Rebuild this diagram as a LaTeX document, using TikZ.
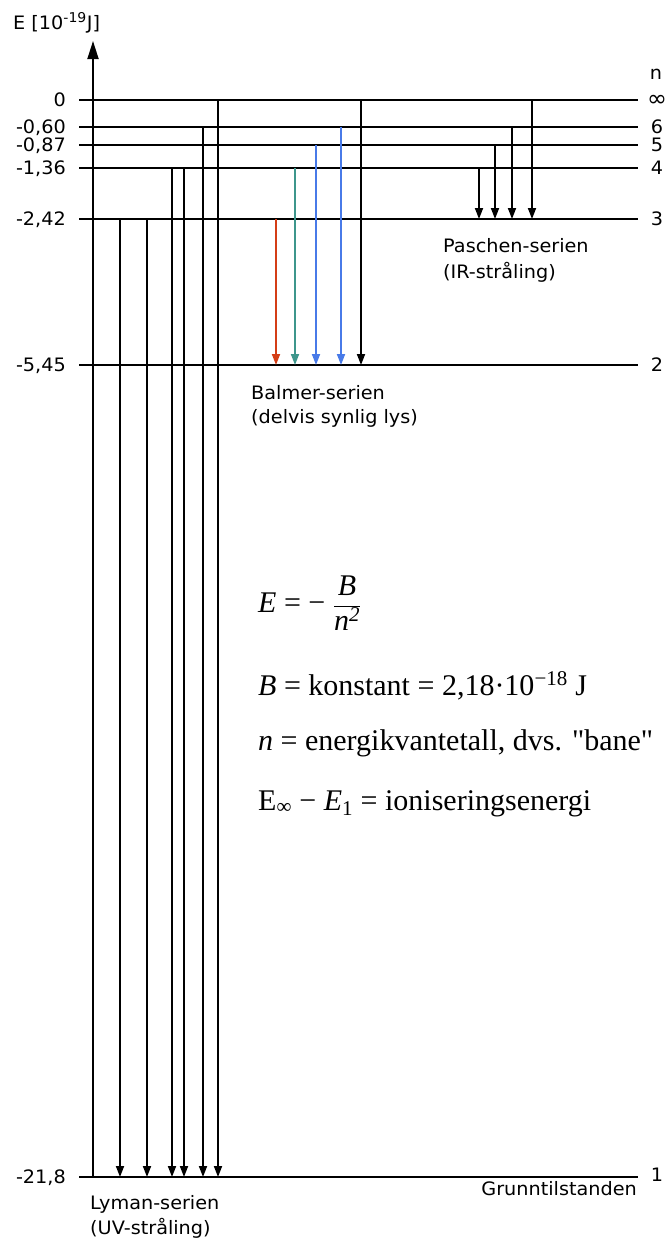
\documentclass[tikz,border=0pt]{standalone}
\usepackage{fontspec}
\setmainfont{DejaVu Sans}
\newfontfamily\lab{DejaVu Sans}[FakeStretch=1.04]
\newfontfamily\fser{Liberation Serif}
\usetikzlibrary{arrows.meta}
\definecolor{cred}{RGB}{212,62,22}
\definecolor{cteal}{RGB}{62,150,140}
\definecolor{cblue}{RGB}{72,122,232}
\begin{document}
\begin{tikzpicture}[x=1pt,y=-1pt,
  lev/.style={line width=1.8pt},
  tr/.style={line width=1.8pt,-{Triangle[width=8pt,length=11pt]}},
  lbl/.style={font=\lab\fontsize{18.5}{22}\selectfont,inner sep=0pt},
  fml/.style={font=\fser\fontsize{30}{36}\selectfont,inner sep=0pt,anchor=base west}]
\useasboundingbox (0,0) rectangle (669,1240);
% level coordinates
\coordinate (Linf) at (0,100);
\coordinate (L6) at (0,127);
\coordinate (L5) at (0,145);
\coordinate (L4) at (0,168);
\coordinate (L3) at (0,219);
\coordinate (L2) at (0,365);
\coordinate (L1) at (0,1177);
% level lines
\foreach \n in {inf,6,5,4,3,2,1}
  \draw[lev] (79,0 |- L\n) -- (638,0 |- L\n);
% axis
\coordinate (axb) at (93,1177);
\coordinate (axt) at (93,41);
\draw[line width=1.8pt,-{Triangle[width=11pt,length=18pt]}] (axb) -- (axt);
\node[lbl,anchor=base west] (axlab) at (13,29) {E [10\textsuperscript{\fontsize{13.5}{14}\selectfont -19}J]};
% left labels
\node[lbl,anchor=base east] (elinf) at (66,106.7) {0};
\node[lbl,anchor=base east] (el6) at (66,133.7) {-0,60};
\node[lbl,anchor=base east] (el5) at (66,151.7) {-0,87};
\node[lbl,anchor=base east] (el4) at (66,174.7) {-1,36};
\node[lbl,anchor=base east] (el3) at (66,225.7) {-2,42};
\node[lbl,anchor=base east] (el2) at (66,371.7) {-5,45};
\node[lbl,anchor=base east] (el1) at (66,1183.7) {-21,8};
% right labels
\node[lbl,anchor=base] (nlab) at (656,79) {n};
\node[lbl,anchor=base,font=\lab\fontsize{23}{25}\selectfont] (ninf) at (657,106) {∞};
\foreach \n/\y in {6/127,5/145,4/168,3/219,2/365,1/1175}
  \node[lbl,anchor=base] (n\n) at (657,\y+6.7) {\n};
% Lyman series
\foreach \x/\f in {120/3,147/3,172/4,184/4,203/6,218/inf}
  \draw[tr] (\x,0 |- L\f) -- (\x,0 |- L1);
% Balmer series
\draw[tr,cred] (276,0 |- L3) -- (276,0 |- L2);
\draw[tr,cteal] (295,0 |- L4) -- (295,0 |- L2);
\draw[tr,cblue] (316,0 |- L5) -- (316,0 |- L2);
\draw[tr,cblue] (341,0 |- L6) -- (341,0 |- L2);
\draw[tr] (361,0 |- Linf) -- (361,0 |- L2);
% Paschen series
\foreach \x/\f in {479/4,495/5,512/6,532/inf}
  \draw[tr] (\x,0 |- L\f) -- (\x,0 |- L3);
% series labels
\node[lbl,anchor=base west] (pa1) at (443,252) {Paschen-serien};
\node[lbl,anchor=base west] (pa2) at (443,278) {(IR-stråling)};
\node[lbl,anchor=base west] (ba1) at (251,399) {Balmer-serien};
\node[lbl,anchor=base west] (ba2) at (251,423) {(delvis synlig lys)};
\node[lbl,anchor=base west] (ly1) at (90,1209) {Lyman-serien};
\node[lbl,anchor=base west] (ly2) at (90,1234) {(UV-stråling)};
\node[lbl,anchor=base east] (gr) at (637,1195) {Grunntilstanden};
% formulas
\node[fml] (f1) at (258,612) {{\itshape E} = − $\displaystyle\frac{\mbox{\itshape B}}{\mbox{\itshape n\textsuperscript{2}}}$};
\node[fml] (f2) at (258,695) {{\itshape B} = konstant = 2,18·10\textsuperscript{−18} J};
\node[fml] (f3) at (258,750) {{\itshape n} = energikvantetall, dvs. "bane"};
\node[fml] (f4) at (258,810) {E\textsubscript{∞} − {\itshape E}\textsubscript{1} = ioniseringsenergi};
\end{tikzpicture}
\end{document}
